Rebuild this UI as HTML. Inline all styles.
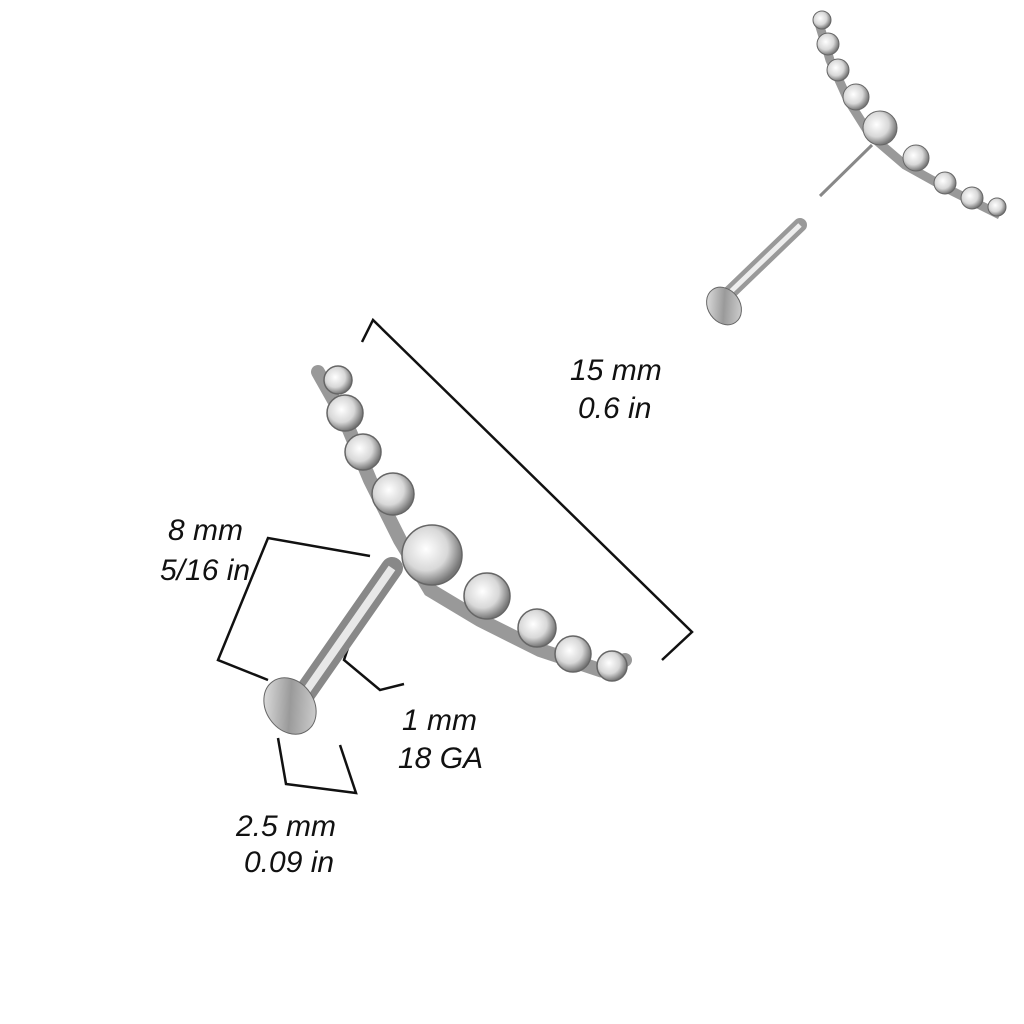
<!DOCTYPE html>
<html><head><style>
html,body{margin:0;padding:0;background:#fff;}
svg{display:block}
text{font-family:"Liberation Sans",sans-serif;font-style:italic;font-size:30px;fill:#111}
</style></head><body>
<svg width="1024" height="1024" viewBox="0 0 1024 1024">
<defs>
<linearGradient id="m" x1="0" y1="0" x2="1" y2="1">
<stop offset="0" stop-color="#f4f4f4"/><stop offset="0.5" stop-color="#9a9a9a"/><stop offset="1" stop-color="#e0e0e0"/></linearGradient>
<radialGradient id="g" cx="0.4" cy="0.4" r="0.6">
<stop offset="0" stop-color="#fff"/><stop offset="0.6" stop-color="#d8d8d8"/><stop offset="1" stop-color="#777"/></radialGradient>
</defs>
<g stroke="#111" stroke-width="2.5" fill="none">
<polyline points="362,342 373,320 692,632 662,660"/>
<polyline points="370,556 268,538 218,660 268,680"/>
<polyline points="348,648 344,660 380,690 404,684"/>
<polyline points="278,738 286,784 356,793 340,745"/>
</g>
<text x="570" y="380">15 mm</text>
<text x="578" y="418">0.6 in</text>
<text x="168" y="540">8 mm</text>
<text x="160" y="580">5/16 in</text>
<text x="402" y="730">1 mm</text>
<text x="398" y="768">18 GA</text>
<text x="236" y="836">2.5 mm</text>
<text x="244" y="872">0.09 in</text>
<!-- main jewelry -->
<line x1="300" y1="700" x2="392" y2="568" stroke="#888" stroke-width="22" stroke-linecap="round"/>
<line x1="300" y1="700" x2="392" y2="568" stroke="#e8e8e8" stroke-width="8"/>
<ellipse cx="290" cy="706" rx="24" ry="30" transform="rotate(-35 290 706)" fill="url(#m)" stroke="#666"/>
<path d="M318,372 L345,420 L370,480 L400,540 L430,590 L480,620 L540,650 L600,670 L625,660" stroke="#999" stroke-width="14" fill="none" stroke-linecap="round"/>
<g fill="url(#g)" stroke="#666" stroke-width="1.5">
<circle cx="338" cy="380" r="14"/><circle cx="345" cy="413" r="18"/><circle cx="363" cy="452" r="18"/>
<circle cx="393" cy="494" r="21"/><circle cx="432" cy="555" r="30"/><circle cx="487" cy="596" r="23"/>
<circle cx="537" cy="628" r="19"/><circle cx="573" cy="654" r="18"/><circle cx="612" cy="666" r="15"/>
</g>
<!-- small jewelry -->
<line x1="722" y1="300" x2="800" y2="225" stroke="#999" stroke-width="14" stroke-linecap="round"/>
<line x1="722" y1="300" x2="800" y2="225" stroke="#eee" stroke-width="5"/>
<ellipse cx="724" cy="306" rx="16" ry="20" transform="rotate(-35 724 306)" fill="url(#m)" stroke="#666"/>
<line x1="820" y1="196" x2="872" y2="145" stroke="#888" stroke-width="3"/>
<path d="M818,20 L830,60 L848,100 L870,135 L905,165 L950,190 L1000,215" stroke="#999" stroke-width="9" fill="none"/>
<g fill="url(#g)" stroke="#666" stroke-width="1">
<circle cx="822" cy="20" r="9"/><circle cx="828" cy="44" r="11"/><circle cx="838" cy="70" r="11"/>
<circle cx="856" cy="97" r="13"/><circle cx="880" cy="128" r="17"/><circle cx="916" cy="158" r="13"/>
<circle cx="945" cy="183" r="11"/><circle cx="972" cy="198" r="11"/><circle cx="997" cy="207" r="9"/>
</g>
</svg>
</body></html>
